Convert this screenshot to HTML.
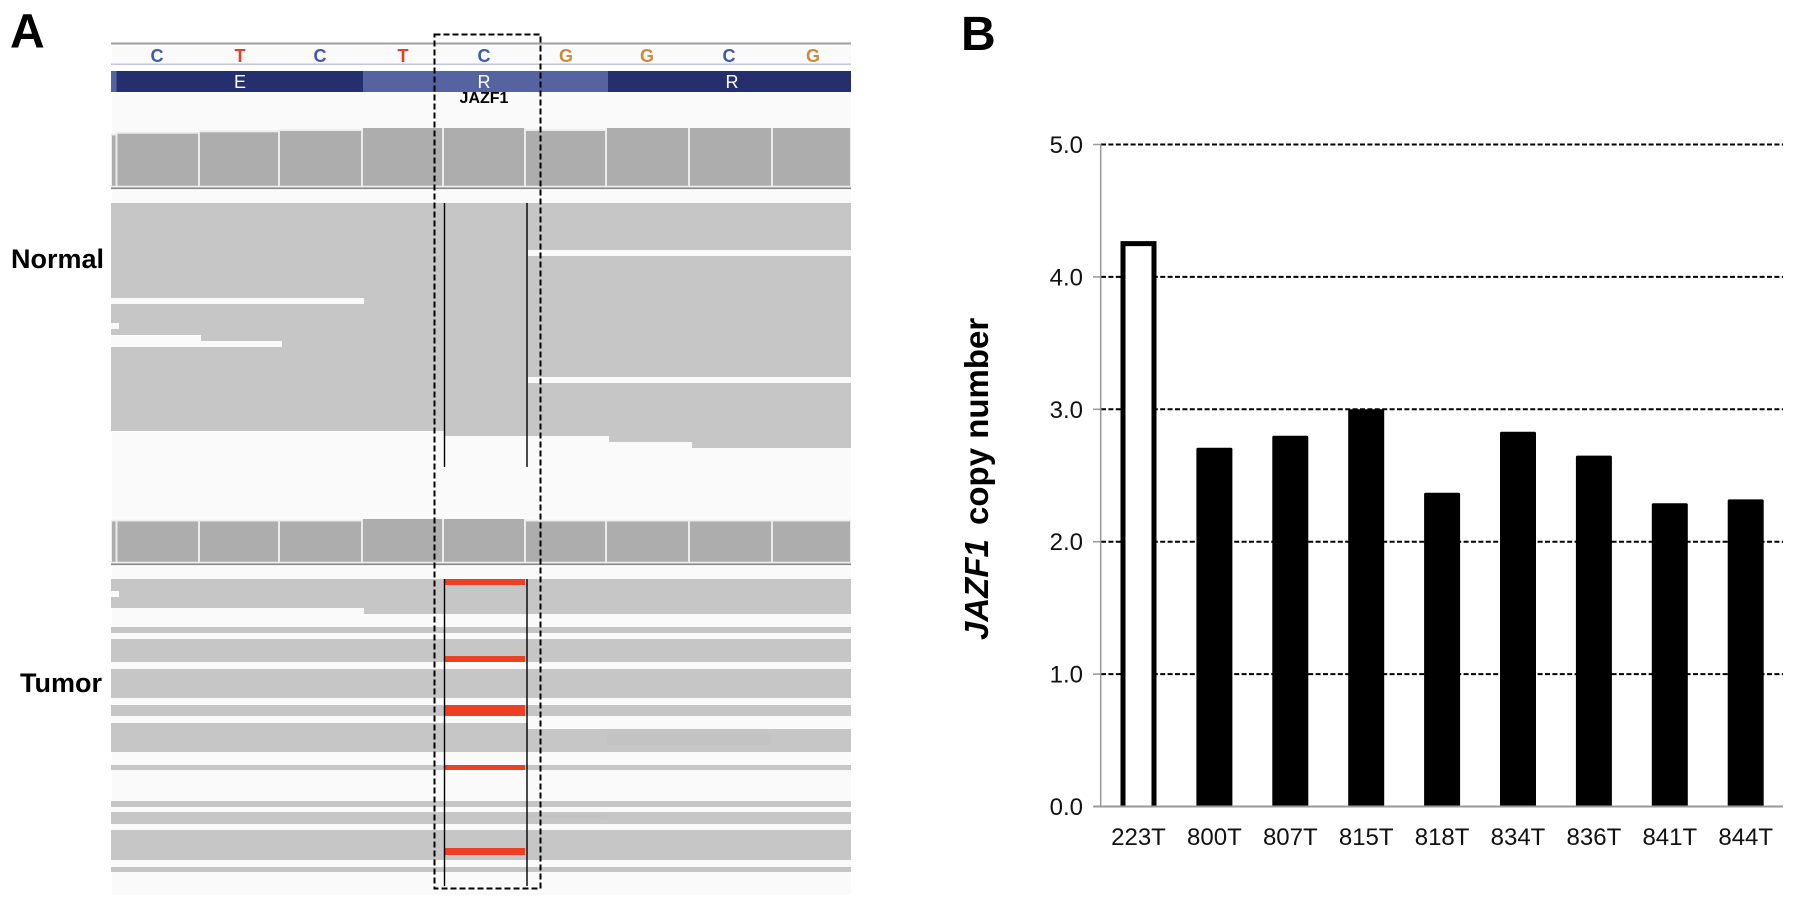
<!DOCTYPE html>
<html lang="en">
<head>
<meta charset="utf-8">
<title>JAZF1 read alignment and copy number</title>
<style>
html,body{margin:0;padding:0;background:#fff;width:1795px;height:907px;overflow:hidden}
svg{display:block;font-family:"Liberation Sans",Arial,sans-serif}
</style>
</head>
<body>
<svg id="fig" xmlns="http://www.w3.org/2000/svg" width="1795" height="907" viewBox="0 0 1795 907">
  <g id="panel-a"></g>
  <g id="panel-a-text">
    <text x="10" y="47.5" font-size="48" font-weight="bold">A</text>
    <text x="11" y="268" font-size="27" font-weight="bold">Normal</text>
    <text x="20" y="692" font-size="27" font-weight="bold">Tumor</text>
    <g font-size="18" font-weight="bold" text-anchor="middle">
      <text x="157" y="62" fill="#3f5aa8">C</text>
      <text x="240" y="62" fill="#e0402a">T</text>
      <text x="320" y="62" fill="#3f5aa8">C</text>
      <text x="403" y="62" fill="#e0402a">T</text>
      <text x="484" y="62" fill="#3f5aa8">C</text>
      <text x="566" y="62" fill="#cc8a3c">G</text>
      <text x="647" y="62" fill="#cc8a3c">G</text>
      <text x="729" y="62" fill="#3f5aa8">C</text>
      <text x="813" y="62" fill="#cc8a3c">G</text>
    </g>
    <g font-size="18" fill="#fff" text-anchor="middle">
      <text x="240" y="88">E</text>
      <text x="484" y="88">R</text>
      <text x="732" y="88">R</text>
    </g>
    <text x="484" y="103" font-size="16" font-weight="bold" text-anchor="middle">JAZF1</text>
  </g>
  <rect x="434.5" y="34.5" width="106" height="854" fill="none" stroke="#000" stroke-width="2" stroke-dasharray="6 3"></rect>
  <text x="961" y="50" font-size="48" font-weight="bold">B</text>
  <g id="panel-b"></g>
  <text transform="translate(988,640) rotate(-90)" font-size="33" font-weight="bold"><tspan font-style="italic">JAZF1</tspan><tspan dx="5"> copy number</tspan></text>
</svg>
<script>
// ---- Chart data (panel B) ----
var categories = ['223T','800T','807T','815T','818T','834T','836T','841T','844T'];
var copyNumbers = [4.27, 2.71, 2.80, 3.00, 2.37, 2.83, 2.65, 2.29, 2.32];
var outlinedSamples = ['223T'];
var tickValues = [0, 1, 2, 3, 4, 5];
var tickLabels = ['0.0','1.0','2.0','3.0','4.0','5.0'];

var NS = 'http://www.w3.org/2000/svg';
function yAxis(v){ return 806.5 - v * 132.4; }
function xAxis(i){ return 1138.5 + i * 75.9; }

function shape(parent, tag, attrs, name){
  var el = document.createElementNS(NS, tag);
  for (var k in attrs) el.setAttribute(k, attrs[k]);
  
  
  parent.appendChild(el);
  return el;
}

// ---- Panel B ----
var pb = document.getElementById('panel-b');
tickValues.forEach(function(v, i){
  var y = yAxis(v);
  if (v > 0) {
    shape(pb, 'line', {x1:1101, x2:1783, y1:y, y2:y, stroke:'#000', 'stroke-width':2, 'stroke-dasharray':'5 2.4'}, 'gridline');
  }
  shape(pb, 'line', {x1:1093, x2:1101, y1:y, y2:y, stroke:'#999', 'stroke-width':1.5}, 'y-tick');
  var t = shape(pb, 'text', {x:1083, y:y + 8.5, 'font-size':24, 'text-anchor':'end', fill:'#111'}, 'y-tick-label');
  t.textContent = tickLabels[i];
});
categories.forEach(function(c, i){
  var cx = xAxis(i), top = yAxis(copyNumbers[i]), base = yAxis(0);
  if (outlinedSamples.indexOf(c) >= 0) {
    shape(pb, 'path', {d:'M' + (cx - 15.5) + ' ' + base + ' V' + (top + 2.5) + ' H' + (cx + 15.5) + ' V' + base, fill:'#fff', stroke:'#000', 'stroke-width':5}, 'bar-outlined');
  } else {
    shape(pb, 'rect', {x:cx - 18, y:top, width:36, height:base - top, rx:1.5, fill:'#000'}, 'bar');
  }
  var t = shape(pb, 'text', {x:cx, y:845, 'font-size':24, 'text-anchor':'middle', fill:'#111'}, 'x-tick-label');
  t.textContent = c;
});
shape(pb, 'line', {x1:1100.7, x2:1100.7, y1:144, y2:807, stroke:'#999', 'stroke-width':1.5}, 'y-axis-line');
shape(pb, 'line', {x1:1094, x2:1783, y1:806.5, y2:806.5, stroke:'#999', 'stroke-width':2}, 'x-axis-line');

// ---- Panel A ----
var pa = document.getElementById('panel-a');
function box(x0, y0, x1, y1, fill, name){
  return shape(pa, 'rect', {x:x0, y:y0, width:x1 - x0, height:y1 - y0, fill:fill}, name);
}
var READ = '#c6c6c6', BG = '#fafafa', RED = '#ee3f24', COV = '#adadad';

box(112, 44, 851, 64, BG, 'sequence-row');
box(111, 42.5, 851, 44.5, '#a0a0a0', 'top-rule');
box(111, 63.5, 851, 65, '#c3c6de', 'sequence-rule');
box(111, 71, 116.5, 92, '#5563a0', 'exon-start');
box(116.5, 71, 363, 92, '#262f6e', 'exon-dark');
box(363, 71, 608, 92, '#5563a0', 'exon-light');
box(608, 71, 851, 92, '#262f6e', 'exon-dark');
box(112, 92, 851, 895, BG, 'track-background');

function coverage(cells, base, bottom, ruleY){
  cells.forEach(function(c){
    box(c[0], c[2] > base ? c[2] - 1.8 : base, c[1], bottom, '#ececec', 'coverage-cell-border');
    box(c[0] + 1, c[2], c[1] - 1, bottom - 1.8, COV, 'coverage-cell');
  });
  box(111, ruleY, 851, ruleY + 1.6, '#888', 'coverage-rule');
}
coverage([[111,116.5,135.5],[116.5,199,133.7],[199,279,132.3],[279,362,131],[362,443,128],[443,525,128],[525,606,131],[606,689,128],[689,772,128],[772,851,128]], 128, 187.5, 187.5);
coverage([[111,116.5,521.5],[116.5,199,521.5],[199,279,521.5],[279,362,521.5],[362,443,519],[443,525,519],[525,606,521.5],[606,689,521.5],[689,772,521.5],[772,851,521.5]], 519, 563.5, 563.5);

// normal reads (drawn overlapping so no seams appear)
box(111, 203, 444, 431, READ, 'normal-reads');
box(444, 203, 528, 436, READ, 'normal-reads');
box(527, 203, 851, 250, READ, 'normal-reads');
box(527, 256, 851, 377, READ, 'normal-reads');
box(527, 383, 851, 436, READ, 'normal-reads');
box(609, 383, 851, 442, READ, 'normal-reads');
box(692, 383, 851, 448, READ, 'normal-reads');
box(111, 298, 364, 304, BG, 'normal-read-gap');
box(111, 323, 119, 329, BG, 'normal-read-gap');
box(111, 335, 201, 347, BG, 'normal-read-gap');
box(201, 341, 282, 347, BG, 'normal-read-gap');

// tumor reads
box(111, 579, 851, 608, READ, 'tumor-reads');
box(364, 607, 851, 614, READ, 'tumor-reads');
box(111, 591, 119, 597, BG, 'tumor-read-gap');
box(111, 627, 851, 633, READ, 'tumor-reads');
box(111, 639, 851, 662, READ, 'tumor-reads');
box(111, 669, 851, 698, READ, 'tumor-reads');
box(111, 705, 851, 716, READ, 'tumor-reads');
box(111, 723, 528, 752, READ, 'tumor-reads');
box(527, 729, 851, 752, READ, 'tumor-reads');
box(607, 734, 770, 745, '#c3c3c3', 'tumor-read-shade');
box(111, 765, 851, 770, READ, 'tumor-reads');
box(111, 801, 851, 807, READ, 'tumor-reads');
box(111, 812, 851, 824, READ, 'tumor-reads');
box(527, 814, 607, 818, '#c3c3c3', 'tumor-read-shade');
box(111, 830, 851, 860, READ, 'tumor-reads');
box(111, 867, 851, 872, READ, 'tumor-reads');

// variant marks
box(445, 579, 525, 585, RED, 'variant-mark');
box(445, 656, 525, 662, RED, 'variant-mark');
box(445, 705, 525, 716, RED, 'variant-mark');
box(445, 765, 525, 770, RED, 'variant-mark');
box(445, 848, 525, 855, RED, 'variant-mark');

// thin vertical guides
shape(pa, 'line', {x1:444.5, x2:444.5, y1:203, y2:467, stroke:'#000', 'stroke-width':1.4}, 'guide-line');
shape(pa, 'line', {x1:527, x2:527, y1:203, y2:467, stroke:'#000', 'stroke-width':1.4}, 'guide-line');
shape(pa, 'line', {x1:444.5, x2:444.5, y1:579, y2:886, stroke:'#000', 'stroke-width':1.4}, 'guide-line');
shape(pa, 'line', {x1:527, x2:527, y1:579, y2:886, stroke:'#000', 'stroke-width':1.4}, 'guide-line');
</script>
</body>
</html>
